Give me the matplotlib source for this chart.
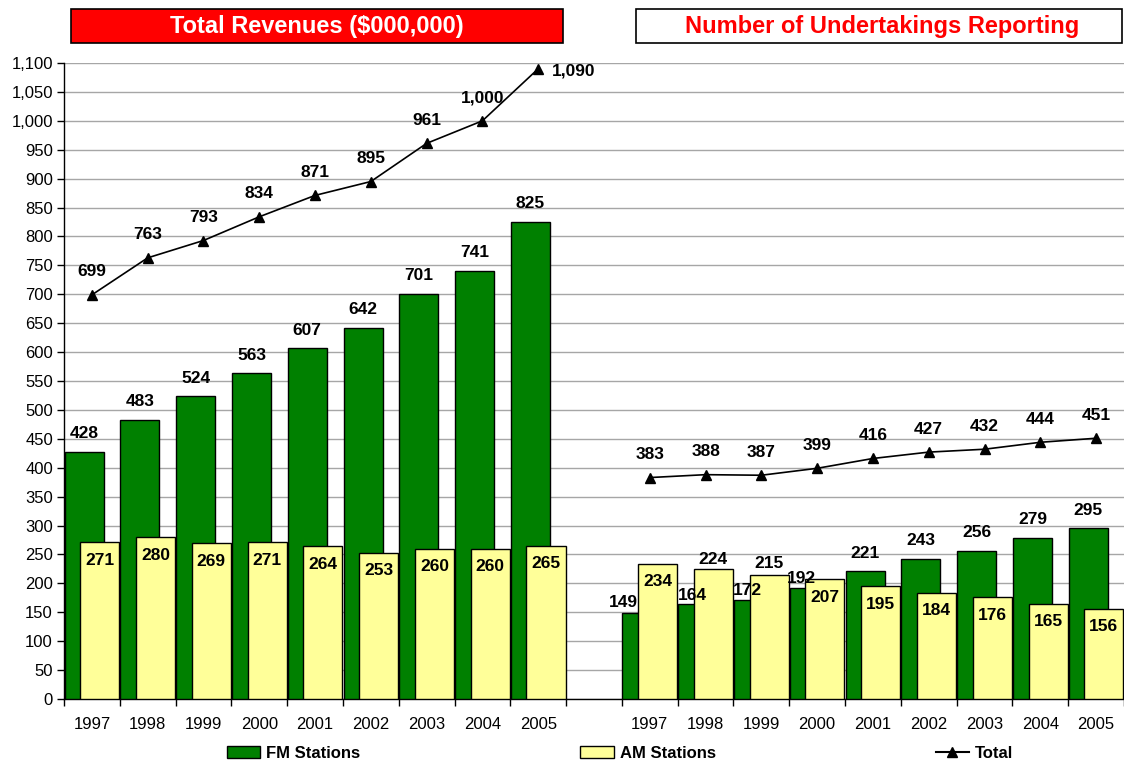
import matplotlib
matplotlib.use("Agg")
import matplotlib.pyplot as plt
from matplotlib.patches import Rectangle, Patch
from matplotlib.lines import Line2D
from matplotlib.ticker import FuncFormatter, MultipleLocator

plt.rcParams['font.family'] = ['Liberation Sans', 'DejaVu Sans']

years = ['1997', '1998', '1999', '2000', '2001', '2002', '2003', '2004', '2005']

# Total revenues ($000,000)
rev_fm = [428, 483, 524, 563, 607, 642, 701, 741, 825]
rev_am = [271, 280, 269, 271, 264, 253, 260, 260, 265]
rev_total = [699, 763, 793, 834, 871, 895, 961, 1000, 1090]

# Number of undertakings reporting
und_fm = [149, 164, 172, 192, 221, 243, 256, 279, 295]
und_am = [234, 224, 215, 207, 195, 184, 176, 165, 156]
und_total = [383, 388, 387, 399, 416, 427, 432, 444, 451]

FM_COLOR = '#008000'
AM_COLOR = '#FFFF99'

W, H = 1124, 764
fig = plt.figure(figsize=(W / 100, H / 100), dpi=100)
ax = fig.add_axes([64 / W, 65 / H, 1 - 64 / W, (699 - 63) / H])

n = len(years)
bases = [0, n + 1]  # second panel starts after one empty slot
groups = [(rev_fm, rev_am, rev_total), (und_fm, und_am, und_total)]

lbl = dict(fontsize=12.5, fontweight='bold', ha='center', va='center',
           textcoords='offset pixels', zorder=6)

# label nudges for the crowded undertakings panel (pixels)
fm_nudge = {(1, 0): (-19, 10), (1, 1): (-5, 9), (1, 2): (-6, 9), (1, 3): (-8, 9)}
am_nudge = {(1, 1): (0, 10), (1, 2): (0, 11)}

for g, (base, (fm, am, tot)) in enumerate(zip(bases, groups)):
    xs = [base + i for i in range(n)]
    ax.bar([x + 0.01 for x in xs], fm, width=0.70, align='edge',
           color=FM_COLOR, edgecolor='black', linewidth=1, zorder=3)
    ax.bar([x + 0.29 for x in xs], am, width=0.70, align='edge',
           color=AM_COLOR, edgecolor='black', linewidth=1, zorder=4)
    cx = [x + 0.5 for x in xs]
    ax.plot(cx, tot, color='black', linewidth=1.2, marker='^',
            markersize=7, zorder=5)
    for i in range(n):
        ax.annotate(str(fm[i]), (xs[i] + 0.36, fm[i]),
                    xytext=fm_nudge.get((g, i), (0, 18)), **lbl)
        ax.annotate(str(am[i]), (xs[i] + 0.64, am[i]),
                    xytext=am_nudge.get((g, i), (0, -18)), **lbl)
        if g == 0 and i == n - 1:
            ax.annotate(f'{tot[i]:,}', (cx[i], tot[i]), xytext=(14, -2),
                        **{**lbl, 'ha': 'left'})
        else:
            ax.annotate(f'{tot[i]:,}', (cx[i], tot[i]), xytext=(0, 23), **lbl)

ax.set_xlim(0, 18.83)
ax.set_ylim(0, 1100)
ax.yaxis.set_major_locator(MultipleLocator(50))
ax.yaxis.set_major_formatter(FuncFormatter(lambda v, p: f'{int(v):,}'))
ax.grid(axis='y', color='#A6A6A6', linewidth=1, zorder=0)
ax.set_axisbelow(True)

ax.set_xticks(range(0, 2 * n + 2))
ax.set_xticklabels([])
ax.set_xticks([b + i + 0.5 for b in bases for i in range(n)], minor=True)
ax.set_xticklabels(years * 2, minor=True)
ax.tick_params(axis='x', which='major', length=5, width=1, direction='out')
ax.tick_params(axis='x', which='minor', length=0, pad=13, labelsize=12)
ax.tick_params(axis='y', length=5, width=1, direction='out', labelsize=12, pad=3)

for s in ['top', 'right']:
    ax.spines[s].set_visible(False)
for s in ['left', 'bottom']:
    ax.spines[s].set_color('black')
    ax.spines[s].set_linewidth(1)

# title boxes
fig.patches.append(Rectangle((71 / W, 1 - 43 / H), (563 - 71) / W, 34 / H,
                             transform=fig.transFigure, facecolor='#FF0000',
                             edgecolor='black', linewidth=1.2))
fig.text(317 / W, 1 - 26 / H, 'Total Revenues ($000,000)', color='white',
         fontsize=17, fontweight='bold', ha='center', va='center')
fig.patches.append(Rectangle((636 / W, 1 - 43 / H), (1122 - 636) / W, 34 / H,
                             transform=fig.transFigure, facecolor='white',
                             edgecolor='black', linewidth=1.2))
fig.text(882 / W, 1 - 26 / H, 'Number of Undertakings Reporting', color='#FF0000',
         fontsize=17, fontweight='bold', ha='center', va='center')

handles = [Patch(facecolor=FM_COLOR, edgecolor='black'),
           Patch(facecolor=AM_COLOR, edgecolor='black'),
           Line2D([], [], color='black', marker='^', markersize=7)]
fig.legend(handles, ['FM Stations', 'AM Stations', 'Total'], ncol=3,
           loc='center', bbox_to_anchor=(620 / W, 11 / H), frameon=False,
           prop={'weight': 'bold', 'size': 12}, handlelength=2.0,
           handleheight=0.75, columnspacing=13.2, handletextpad=0.35)

fig.savefig('out.png', dpi=100)
